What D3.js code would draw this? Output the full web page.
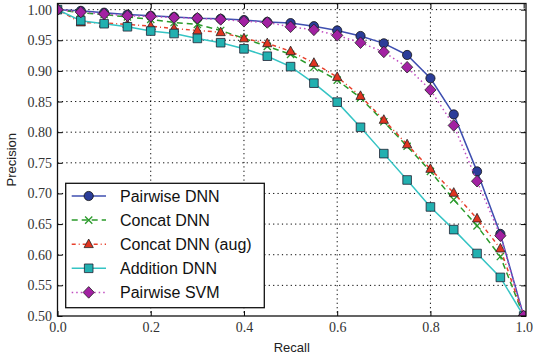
<!DOCTYPE html>
<html>
<head>
<meta charset="utf-8">
<script src="https://cdn.jsdelivr.net/npm/d3@7"></script>
<style>
  html, body { margin: 0; padding: 0; background: #fff; }
  svg { display: block; }
</style>
</head>
<body>
<div id="viz"></div>
<script>
const recall = [0, 0.05, 0.1, 0.15, 0.2, 0.25, 0.3, 0.35, 0.4, 0.45, 0.5, 0.55, 0.6, 0.65, 0.7, 0.75, 0.8, 0.85, 0.9, 0.95, 1.0];

const pairwiseDnn = [1.0, 0.998, 0.995, 0.992, 0.990, 0.988, 0.986, 0.985, 0.983, 0.980, 0.978, 0.973, 0.966, 0.957, 0.945, 0.926, 0.888, 0.829, 0.736, 0.634, 0.50];
const concatDnn = [1.0, 0.995, 0.992, 0.988, 0.984, 0.979, 0.976, 0.966, 0.953, 0.940, 0.927, 0.906, 0.885, 0.856, 0.817, 0.777, 0.736, 0.690, 0.647, 0.597, 0.50];
const concatAug = [1.0, 0.979, 0.978, 0.976, 0.973, 0.969, 0.966, 0.963, 0.953, 0.945, 0.932, 0.913, 0.890, 0.859, 0.820, 0.780, 0.740, 0.701, 0.659, 0.610, 0.50];
const additionDnn = [1.0, 0.982, 0.977, 0.972, 0.965, 0.961, 0.953, 0.946, 0.936, 0.924, 0.907, 0.880, 0.849, 0.808, 0.765, 0.722, 0.678, 0.641, 0.602, 0.563, 0.50];
const pairwiseSvm = [1.0, 0.996, 0.993, 0.990, 0.989, 0.987, 0.986, 0.984, 0.981, 0.979, 0.972, 0.967, 0.958, 0.946, 0.931, 0.906, 0.869, 0.811, 0.720, 0.631, 0.50];

const seriesNames = ["Pairwise DNN", "Concat DNN", "Concat DNN (aug)", "Addition DNN", "Pairwise SVM"];
const xTicks = [0, 0.2, 0.4, 0.6, 0.8, 1.0];
const yTicks = [0.50, 0.55, 0.60, 0.65, 0.70, 0.75, 0.80, 0.85, 0.90, 0.95, 1.00];

const width = 533;
const height = 357;
const margin = {top: 3.5, right: 7, bottom: 41, left: 57.5};

const styles = [
  {line: "#3f4fb0", dash: null, marker: "circle", fill: "#2b3d99", stroke: "#111"},
  {line: "#2a9a2a", dash: "6,4", marker: "x", fill: "none", stroke: "#2a9a2a"},
  {line: "#e8402c", dash: "4,3,1,3", marker: "triangle", fill: "#e03420", stroke: "#222"},
  {line: "#35c4c4", dash: null, marker: "square", fill: "#22b0b0", stroke: "#223"},
  {line: "#c04cc0", dash: "1.5,3", marker: "diamond", fill: "#a221a2", stroke: "#222"}
];

const allSeries = [pairwiseDnn, concatDnn, concatAug, additionDnn, pairwiseSvm];

const svg = d3.select("#viz").append("svg")
  .attr("width", width)
  .attr("height", height);

const x = d3.scaleLinear().domain([0, 1.005]).range([margin.left, width - margin.right]);
const y = d3.scaleLinear().domain([0.5, 1.01]).range([height - margin.bottom, margin.top]);

// grid
svg.append("g").selectAll("line").data(yTicks.slice(1)).join("line")
  .attr("x1", margin.left).attr("x2", width - margin.right)
  .attr("y1", d => y(d)).attr("y2", d => y(d))
  .attr("stroke", "#000").attr("stroke-width", 1).attr("stroke-dasharray", "1.2,3.2");
svg.append("g").selectAll("line").data(xTicks.slice(1, -1)).join("line")
  .attr("y1", margin.top).attr("y2", height - margin.bottom)
  .attr("x1", d => x(d)).attr("x2", d => x(d))
  .attr("stroke", "#000").attr("stroke-width", 1).attr("stroke-dasharray", "1.2,3.2");

// axes with inward ticks, serif tick labels
const serifTicks = g => g.selectAll(".tick text")
  .style("font-family", "'Liberation Serif', serif")
  .style("font-size", "14px")
  .style("fill", "#333");

const xAxis = svg.append("g")
  .attr("transform", `translate(0,${height - margin.bottom})`)
  .call(d3.axisBottom(x).tickValues(xTicks).tickFormat(d3.format(".1f")).tickSizeInner(-5).tickSizeOuter(0).tickPadding(6))
  .call(serifTicks);
xAxis.select(".domain").remove();

const yAxis = svg.append("g")
  .attr("transform", `translate(${margin.left},0)`)
  .call(d3.axisLeft(y).tickValues(yTicks).tickFormat(d3.format(".2f")).tickSizeInner(-5).tickSizeOuter(0).tickPadding(5.5))
  .call(serifTicks);
yAxis.select(".domain").remove();

svg.append("g")
  .attr("transform", `translate(0,${margin.top})`)
  .call(d3.axisTop(x).tickValues(xTicks).tickFormat("").tickSizeInner(-5).tickSizeOuter(0))
  .select(".domain").remove();
svg.append("g")
  .attr("transform", `translate(${width - margin.right},0)`)
  .call(d3.axisRight(y).tickValues(yTicks).tickFormat("").tickSizeInner(-5).tickSizeOuter(0))
  .select(".domain").remove();

// clip
svg.append("clipPath").attr("id", "plotclip").append("rect")
  .attr("x", margin.left).attr("y", margin.top)
  .attr("width", width - margin.left - margin.right)
  .attr("height", height - margin.top - margin.bottom);

function markerPath(type) {
  if (type === "circle") return "M4.6,0A4.6,4.6,0,1,1,-4.6,0A4.6,4.6,0,1,1,4.6,0Z";
  if (type === "square") return "M-4.3,-4.3H4.3V4.3H-4.3Z";
  if (type === "triangle") return "M0,-5.2L4.6,3.4H-4.6Z";
  if (type === "diamond") return "M0,-5.8L5.6,0L0,5.8L-5.6,0Z";
  if (type === "x") return "M-3.6,-3.6L3.6,3.6M-3.6,3.6L3.6,-3.6";
}

const line = d3.line().x(d => x(d[0])).y(d => y(d[1]));
const plot = svg.append("g").attr("clip-path", "url(#plotclip)");

allSeries.forEach((vals, i) => {
  const st = styles[i];
  const pts = recall.map((r, j) => [r, vals[j]]);
  plot.append("path")
    .attr("d", line(pts))
    .attr("fill", "none")
    .attr("stroke", st.line)
    .attr("stroke-width", 1.5)
    .attr("stroke-dasharray", st.dash);
  plot.append("g").selectAll("path").data(pts).join("path")
    .attr("transform", d => `translate(${x(d[0])},${y(d[1])})`)
    .attr("d", markerPath(st.marker))
    .attr("fill", st.fill)
    .attr("stroke", st.stroke)
    .attr("stroke-width", st.marker === "x" ? 1.3 : 0.8);
});

// frame
svg.append("rect")
  .attr("x", margin.left).attr("y", margin.top)
  .attr("width", width - margin.left - margin.right)
  .attr("height", height - margin.top - margin.bottom)
  .attr("fill", "none").attr("stroke", "#111").attr("stroke-width", 1.3);

// axis labels
svg.append("text")
  .attr("x", (margin.left + width - margin.right) / 2)
  .attr("y", 352)
  .attr("text-anchor", "middle")
  .attr("font-family", "'Liberation Sans', Arial, sans-serif")
  .attr("font-size", 13).attr("fill", "#222")
  .text("Recall");
svg.append("text")
  .attr("transform", `translate(16,${(margin.top + height - margin.bottom) / 2}) rotate(-90)`)
  .attr("text-anchor", "middle")
  .attr("font-family", "'Liberation Sans', Arial, sans-serif")
  .attr("font-size", 13).attr("fill", "#222")
  .text("Precision");

// legend
const legend = svg.append("g");
legend.append("rect")
  .attr("x", 65.7).attr("y", 183.3)
  .attr("width", 198.6).attr("height", 124.4)
  .attr("fill", "#fff").attr("stroke", "#111").attr("stroke-width", 1.3);

const rows = legend.selectAll("g.row").data(seriesNames).join("g")
  .attr("class", "row")
  .attr("transform", (d, i) => `translate(0,${196 + i * 24.1})`);

rows.append("line")
  .attr("x1", 71.7).attr("x2", 106)
  .attr("stroke", (d, i) => styles[i].line)
  .attr("stroke-width", 1.5)
  .attr("stroke-dasharray", (d, i) => styles[i].dash);
rows.append("path")
  .attr("transform", "translate(88.7,0)")
  .attr("d", (d, i) => markerPath(styles[i].marker))
  .attr("fill", (d, i) => styles[i].fill)
  .attr("stroke", (d, i) => styles[i].stroke)
  .attr("stroke-width", (d, i) => styles[i].marker === "x" ? 1.3 : 0.8);
rows.append("text")
  .attr("x", 120).attr("y", 0).attr("dy", "0.36em")
  .attr("font-family", "'Liberation Sans', Arial, sans-serif")
  .attr("font-size", 16).attr("fill", "#111")
  .text(d => d);
</script>
</body>
</html>
